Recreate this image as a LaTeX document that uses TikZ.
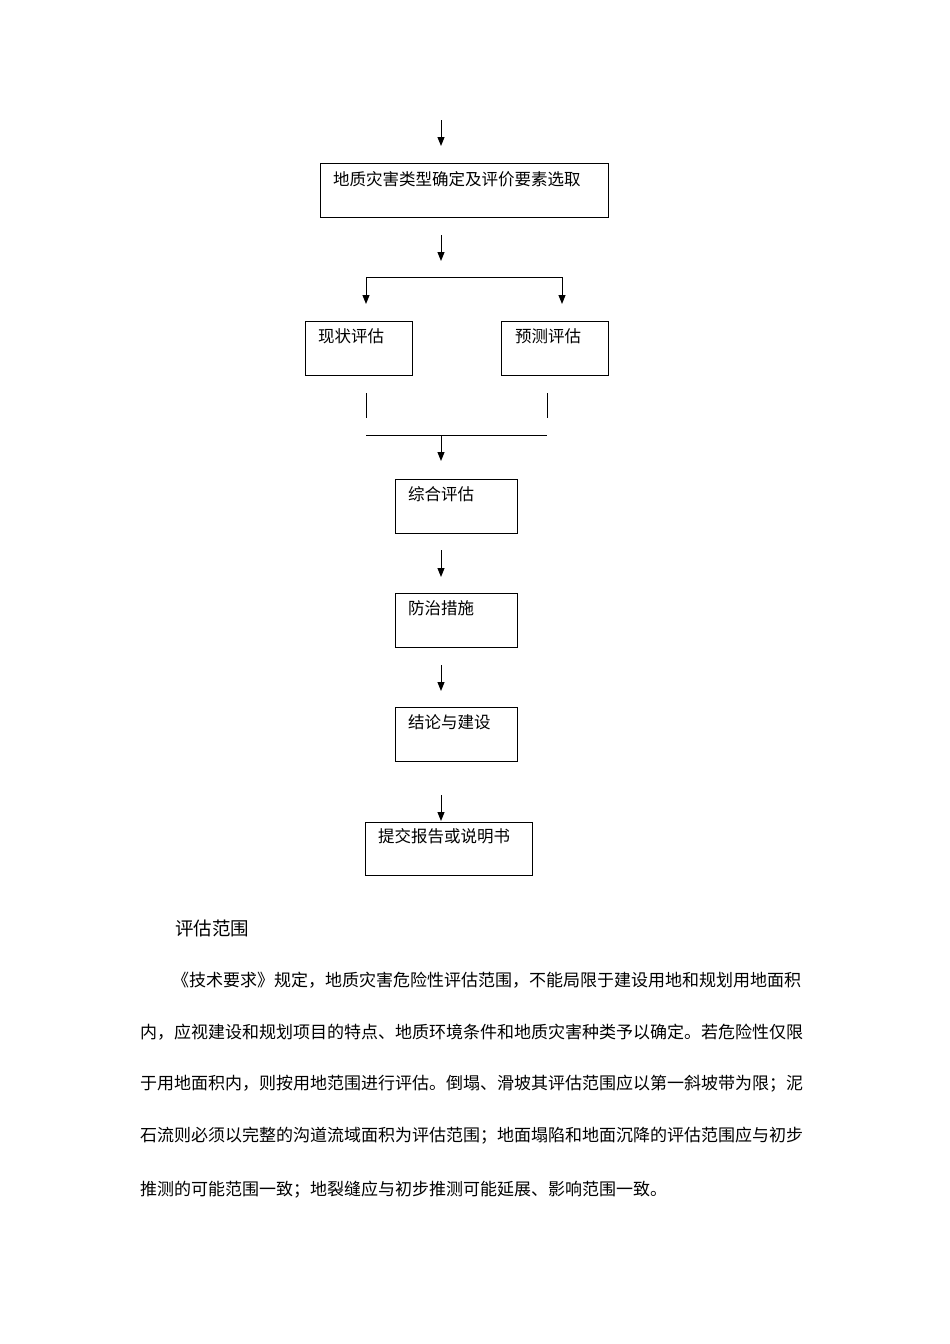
\documentclass[tikz,border=0pt]{standalone}
\usepackage{fontspec}
\newfontfamily\cjk{Noto Sans CJK SC}
\XeTeXlinebreaklocale "zh"
\XeTeXlinebreakskip=0pt plus 6pt
\usetikzlibrary{arrows.meta}
\begin{document}
\begin{tikzpicture}[x=1pt,y=-1pt,
  box/.style={draw,line width=1pt},
  lbl/.style={anchor=west,inner sep=0pt,font=\cjk\fontsize{16.5}{18}\selectfont},
  arr/.style={line width=1pt,-{Triangle[length=9pt,width=7pt]}},
  ln/.style={line width=1pt},
  para/.style={anchor=west,inner sep=0pt,font=\cjk\fontsize{17}{19}\selectfont}]
\useasboundingbox (0,0) rectangle (950,1344);
\coordinate (a0) at (441,120); \coordinate (a0e) at (441,146);
\draw[arr] (a0) -- (a0e);
\draw[box] (320,163) rectangle (608,217); \node[lbl] (t1) at (333,179) {地质灾害类型确定及评价要素选取};
\coordinate (a1) at (441,235); \coordinate (a1e) at (441,261);
\draw[arr] (a1) -- (a1e);
\coordinate (s1) at (366,277); \coordinate (s2) at (562,277);
\coordinate (s1e) at (366,304); \coordinate (s2e) at (562,304);
\draw[ln] (s1) -- (s2);
\draw[arr] (s1) -- (s1e); \draw[arr] (s2) -- (s2e);
\draw[box] (305,321) rectangle (412,375); \node[lbl] (t2) at (318,336) {现状评估};
\draw[box] (501,321) rectangle (608,375); \node[lbl] (t3) at (515,336) {预测评估};
\coordinate (v1) at (366,393); \coordinate (v1e) at (366,418);
\coordinate (v2) at (547,393); \coordinate (v2e) at (547,418);
\draw[ln] (v1) -- (v1e); \draw[ln] (v2) -- (v2e);
\coordinate (h1) at (366,435); \coordinate (h2) at (547,435);
\draw[ln] (h1) -- (h2);
\coordinate (m) at (441,435); \coordinate (me) at (441,461);
\draw[arr] (m) -- (me);
\draw[box] (395,479) rectangle (517,533); \node[lbl] (t4) at (408,494) {综合评估};
\coordinate (a2) at (441,550); \coordinate (a2e) at (441,577);
\draw[arr] (a2) -- (a2e);
\draw[box] (395,593) rectangle (517,647); \node[lbl] (t5) at (408,608) {防治措施};
\coordinate (a3) at (441,665); \coordinate (a3e) at (441,691);
\draw[arr] (a3) -- (a3e);
\draw[box] (395,707) rectangle (517,761); \node[lbl] (t6) at (408,722) {结论与建设};
\coordinate (a4) at (441,795); \coordinate (a4e) at (441,821);
\draw[arr] (a4) -- (a4e);
\draw[box] (365,822) rectangle (532,875); \node[lbl] (t7) at (378,836) {提交报告或说明书};
\node[anchor=west,inner sep=0pt,font=\cjk\fontsize{18.5}{20}\selectfont] (h) at (175,928) {评估范围};
\node[para] (p1) at (172,980) {\makebox[638pt][s]{《技术要求》规定，地质灾害危险性评估范围，不能局限于建设用地和规划用地面积}};
\node[para] (p2) at (140,1032) {\makebox[670pt][s]{内，应视建设和规划项目的特点、地质环境条件和地质灾害种类予以确定。若危险性仅限}};
\node[para] (p3) at (140,1084) {\makebox[670pt][s]{于用地面积内，则按用地范围进行评估。倒塌、滑坡其评估范围应以第一斜坡带为限；泥}};
\node[para] (p4) at (140,1136) {\makebox[670pt][s]{石流则必须以完整的沟道流域面积为评估范围；地面塌陷和地面沉降的评估范围应与初步}};
\node[para] (p5) at (140,1190) {推测的可能范围一致；地裂缝应与初步推测可能延展、影响范围一致。};
\end{tikzpicture}
\end{document}
